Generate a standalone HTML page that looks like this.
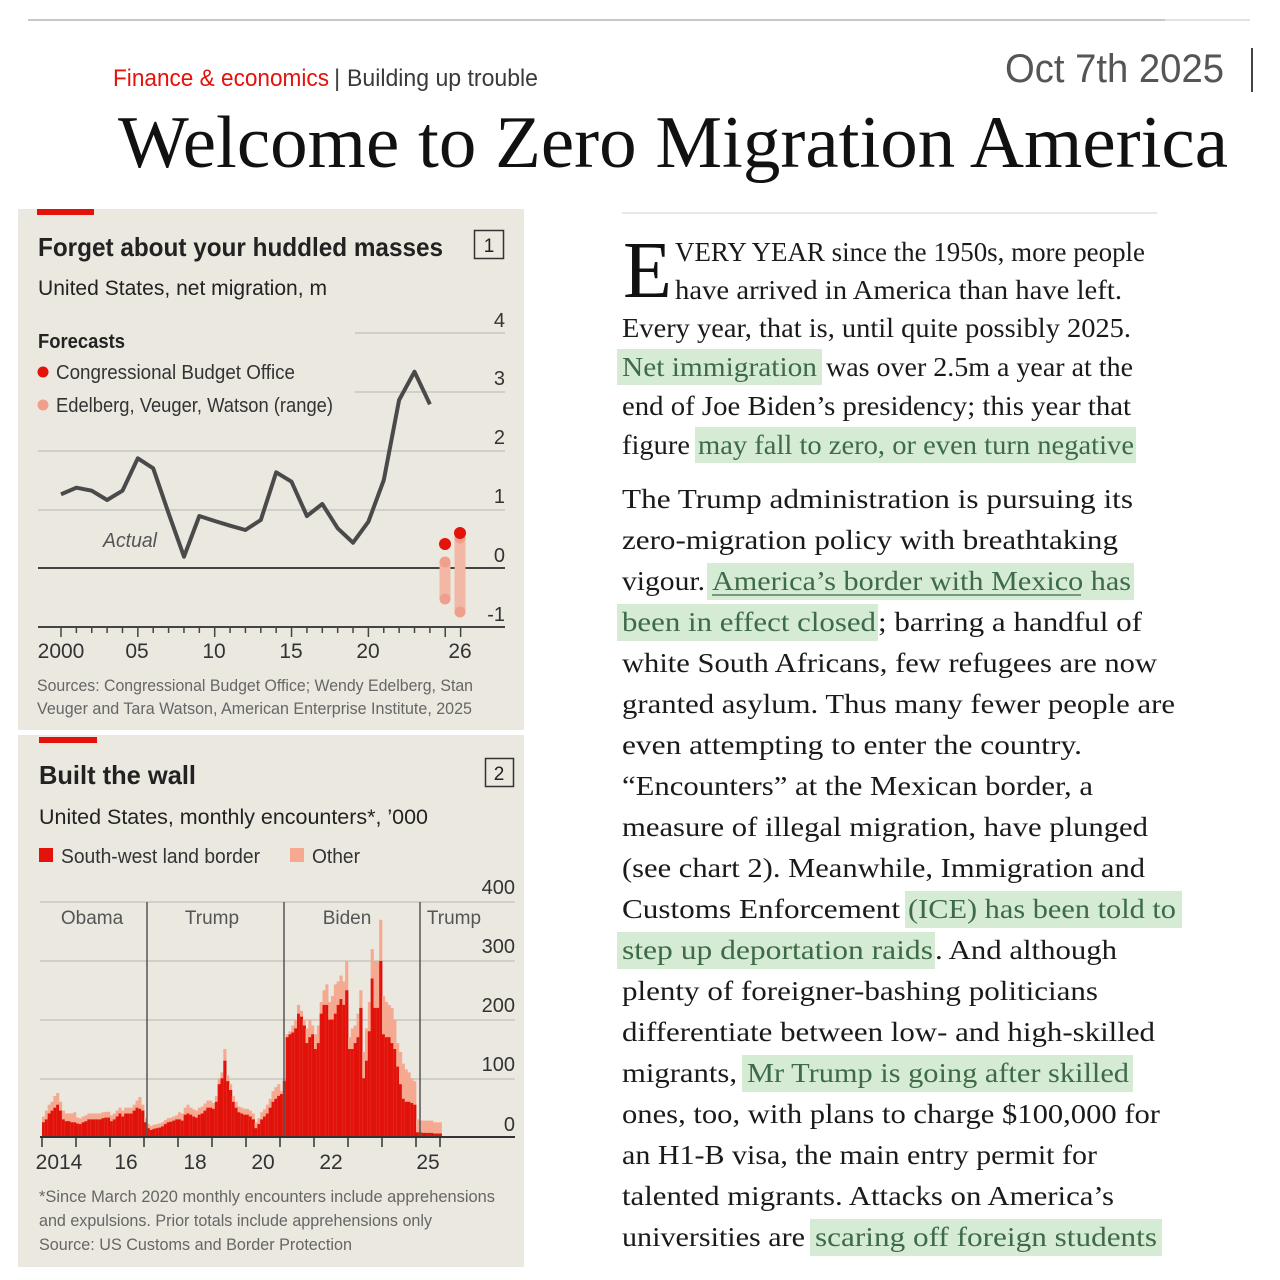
<!DOCTYPE html>
<html><head><meta charset="utf-8"><style>
html,body{margin:0;padding:0;background:#fff;}
svg{display:block;}
.s{font-family:"Liberation Sans Narrow","Liberation Sans",sans-serif;}
.r{font-family:"Liberation Serif",serif;}
</style></head><body>
<svg id="svg" width="1280" height="1280" viewBox="0 0 1280 1280" xmlns="http://www.w3.org/2000/svg">
<rect width="1280" height="1280" fill="#fff"/>
<line x1="28" y1="20" x2="1165" y2="20" stroke="#c8c8c8" stroke-width="2"/>
<line x1="1165" y1="20" x2="1250" y2="20" stroke="#e2e2e2" stroke-width="2"/>
<text class="s" x="113" y="86" font-size="24" fill="#e3120b" textLength="216" lengthAdjust="spacingAndGlyphs">Finance &amp; economics</text>
<text class="s" x="334" y="86" font-size="24" fill="#444">|</text>
<text class="s" x="347" y="86" font-size="24" fill="#3a3a3a" textLength="191" lengthAdjust="spacingAndGlyphs">Building up trouble</text>
<text class="s" x="1005" y="82" font-size="40" fill="#555" textLength="219" lengthAdjust="spacingAndGlyphs">Oct 7th 2025</text>
<rect x="1251" y="48" width="2" height="44" fill="#444"/>
<text class="r" x="118" y="167" font-size="74" fill="#111" textLength="1110" lengthAdjust="spacingAndGlyphs">Welcome to Zero Migration America</text>

<!-- chart 1 -->
<rect x="18" y="209" width="506" height="521" fill="#ebe8e0"/>
<rect x="37" y="209" width="57" height="6" fill="#e3120b"/>
<text class="s" x="38" y="256" font-size="26" font-weight="bold" fill="#222" textLength="405" lengthAdjust="spacingAndGlyphs">Forget about your huddled masses</text>
<rect x="474.5" y="230.5" width="29" height="28" fill="none" stroke="#333" stroke-width="1.5"/>
<text class="s" x="489" y="252" font-size="19" fill="#222" text-anchor="middle">1</text>
<text class="s" x="38" y="295" font-size="21" fill="#222" textLength="289" lengthAdjust="spacingAndGlyphs">United States, net migration, m</text>
<text class="s" x="38" y="348" font-size="20" font-weight="bold" fill="#222" textLength="87" lengthAdjust="spacingAndGlyphs">Forecasts</text>
<circle cx="43" cy="372" r="5.5" fill="#e3120b"/>
<text class="s" x="56" y="379" font-size="20" fill="#333" textLength="239" lengthAdjust="spacingAndGlyphs">Congressional Budget Office</text>
<circle cx="43" cy="405" r="5.5" fill="#f0a08a"/>
<text class="s" x="56" y="412" font-size="20" fill="#333" textLength="277" lengthAdjust="spacingAndGlyphs">Edelberg, Veuger, Watson (range)</text>
<g stroke="#c9c6bf" stroke-width="1.5">
<line x1="355" y1="333" x2="505" y2="333"/>
<line x1="355" y1="392" x2="505" y2="392"/>
<line x1="38" y1="451" x2="505" y2="451"/>
<line x1="38" y1="510" x2="505" y2="510"/>
</g>
<line x1="38" y1="568" x2="505" y2="568" stroke="#444" stroke-width="2"/>
<line x1="38" y1="627" x2="505" y2="627" stroke="#444" stroke-width="2"/>
<g id="ticks1" stroke="#444" stroke-width="1.5"></g>
<g class="s" font-size="20" fill="#333" text-anchor="end">
<text x="505" y="327">4</text><text x="505" y="385">3</text><text x="505" y="444">2</text><text x="505" y="503">1</text><text x="505" y="562">0</text><text x="505" y="621">-1</text>
</g>
<g class="s" font-size="21" fill="#333" text-anchor="middle">
<text x="61" y="658">2000</text><text x="137" y="658">05</text><text x="214" y="658">10</text><text x="291" y="658">15</text><text x="368" y="658">20</text><text x="460" y="658">26</text>
</g>
<text class="s" x="103" y="547" font-size="20" font-style="italic" fill="#555" textLength="54" lengthAdjust="spacingAndGlyphs">Actual</text>
<polyline id="line1" fill="none" stroke="#4a4a4a" stroke-width="4" stroke-linejoin="round" points=""/>
<line x1="445" y1="562" x2="445" y2="599" stroke="#f2b7a5" stroke-width="11"/>
<line x1="460" y1="538" x2="460" y2="612" stroke="#f2b7a5" stroke-width="11"/>
<circle cx="445" cy="562" r="5.5" fill="#eea08c"/><circle cx="445" cy="599" r="5.5" fill="#eea08c"/>
<circle cx="460" cy="538" r="5.5" fill="#eea08c"/><circle cx="460" cy="612" r="5.5" fill="#eea08c"/>
<circle cx="445" cy="544" r="6" fill="#e3120b"/><circle cx="460" cy="533" r="6" fill="#e3120b"/>
<text class="s" x="37" y="691" font-size="16.5" fill="#666" textLength="436" lengthAdjust="spacingAndGlyphs">Sources: Congressional Budget Office; Wendy Edelberg, Stan</text>
<text class="s" x="37" y="714" font-size="16.5" fill="#666" textLength="435" lengthAdjust="spacingAndGlyphs">Veuger and Tara Watson, American Enterprise Institute, 2025</text>

<!-- chart 2 -->
<rect x="18" y="735" width="506" height="532" fill="#ebe8e0"/>
<rect x="39" y="737" width="58" height="6" fill="#e3120b"/>
<text class="s" x="39" y="784" font-size="26" font-weight="bold" fill="#222" textLength="157" lengthAdjust="spacingAndGlyphs">Built the wall</text>
<rect x="485.5" y="758.5" width="28" height="28" fill="none" stroke="#333" stroke-width="1.5"/>
<text class="s" x="499" y="780" font-size="19" fill="#222" text-anchor="middle">2</text>
<text class="s" x="39" y="824" font-size="21" fill="#222" textLength="389" lengthAdjust="spacingAndGlyphs">United States, monthly encounters*, ’000</text>
<rect x="39" y="848" width="14" height="14" fill="#e3120b"/>
<text class="s" x="61" y="863" font-size="20" fill="#333" textLength="199" lengthAdjust="spacingAndGlyphs">South-west land border</text>
<rect x="290" y="848" width="14" height="14" fill="#f4a990"/>
<text class="s" x="312" y="863" font-size="20" fill="#333" textLength="48" lengthAdjust="spacingAndGlyphs">Other</text>
<g stroke="#c9c6bf" stroke-width="1.5">
<line x1="40" y1="902" x2="515" y2="902"/><line x1="40" y1="961" x2="515" y2="961"/><line x1="40" y1="1020" x2="515" y2="1020"/><line x1="40" y1="1079" x2="515" y2="1079"/>
</g>
<g class="s" font-size="20" fill="#333" text-anchor="end">
<text x="515" y="894">400</text><text x="515" y="953">300</text><text x="515" y="1012">200</text><text x="515" y="1071">100</text><text x="515" y="1131">0</text>
</g>
<g id="bars"></g>
<g stroke="#555" stroke-width="1.5">
<line x1="147" y1="902" x2="147" y2="1137"/><line x1="284" y1="902" x2="284" y2="1137"/><line x1="420" y1="902" x2="420" y2="1137"/>
</g>
<g class="s" font-size="19" fill="#555" text-anchor="middle">
<text x="92" y="924">Obama</text><text x="212" y="924">Trump</text><text x="347" y="924">Biden</text><text x="454" y="924">Trump</text>
</g>
<line x1="40" y1="1137" x2="515" y2="1137" stroke="#333" stroke-width="2"/>
<g id="ticks2" stroke="#333" stroke-width="1.5"></g>
<g class="s" font-size="21" fill="#333" text-anchor="middle">
<text x="59" y="1169">2014</text><text x="126" y="1169">16</text><text x="195" y="1169">18</text><text x="263" y="1169">20</text><text x="331" y="1169">22</text><text x="428" y="1169">25</text>
</g>
<text class="s" x="39" y="1202" font-size="16.5" fill="#666" textLength="456" lengthAdjust="spacingAndGlyphs">*Since March 2020 monthly encounters include apprehensions</text>
<text class="s" x="39" y="1226" font-size="16.5" fill="#666" textLength="393" lengthAdjust="spacingAndGlyphs">and expulsions. Prior totals include apprehensions only</text>
<text class="s" x="39" y="1250" font-size="16.5" fill="#666" textLength="313" lengthAdjust="spacingAndGlyphs">Source: US Customs and Border Protection</text>

<!-- article -->
<line x1="622" y1="213" x2="1157" y2="213" stroke="#e0e0e0" stroke-width="1.5"/>
<g fill="#d5ebd4">
<rect x="617" y="349" width="205" height="36"/>
<rect x="695" y="427" width="441" height="36"/>
<rect x="707" y="563" width="427" height="37"/>
<rect x="617" y="604" width="261" height="37"/>
<rect x="905" y="891" width="277" height="37"/>
<rect x="617" y="932" width="318" height="37"/>
<rect x="742" y="1055" width="391" height="37"/>
<rect x="810" y="1219" width="352" height="37"/>
</g>
<text class="r" x="623" y="297" font-size="80" fill="#111">E</text>
<g class="r" font-size="27" fill="#1a1a1a" id="art"></g>
<line x1="712" y1="595" x2="1081" y2="595" stroke="#3d6a48" stroke-width="1.2"/>
</svg>
<script>
const NS="http://www.w3.org/2000/svg";
function el(p,t,a,txt){const e=document.createElementNS(NS,t);for(const k in a)e.setAttribute(k,a[k]);if(txt!==undefined)e.textContent=txt;p.appendChild(e);return e;}
// chart1 line
const zy=[583,563,572,600,572,475,505,640,770,648,663,677,690,660,517,545,648,612,685,728,665,540,300,215,313];
document.getElementById('line1').setAttribute('points',zy.map((v,i)=>(61+i*15.37).toFixed(1)+','+(300+v/3).toFixed(1)).join(' '));
const t1=document.getElementById('ticks1');
for(let y=2000;y<=2026;y++){const x=61+(y-2000)*15.37;el(t1,'line',{x1:x,y1:627,x2:x,y2:(y%5==0||y==2026)?637:633});}
// chart2 bars
const red=[25,30,40,45,50,55,45,30,27,27,25,25, 23,22,25,27,30,30,30,30,30,32,33,33, 27,30,35,40,35,40,40,40,45,50,48,45,
25,15,12,14,15,16,18,22,25,26,28,30, 30,28,38,40,38,35,33,38,40,45,50,50, 48,60,90,100,130,95,80,60,50,42,40,38,
38,35,30,15,22,30,35,40,50,60,65,70, 73,95,170,175,178,185,210,205,190,160,170,175,
150,160,210,225,225,200,200,210,225,235,225,250, 150,150,160,170,220,100,130,180,270,220,220,300,
175,170,170,160,150,120,90,65,60,60,58,55, 8,8,7,7,7,7,6,6,6];
const tot=[35,45,55,60,70,75,60,45,40,40,40,42, 33,32,35,37,40,40,40,40,40,42,43,43, 37,40,45,50,45,50,50,50,55,62,68,55,
32,22,19,21,22,23,25,29,32,33,35,37, 42,40,50,55,50,47,45,50,52,57,62,62, 58,70,100,110,150,105,90,70,60,52,50,48,
48,45,40,25,32,42,47,55,65,78,85,90, 78,100,175,180,190,200,225,215,200,185,200,190,
175,190,230,250,260,230,240,260,265,275,265,300, 170,185,190,210,250,145,185,230,320,300,300,370,
240,230,225,220,200,160,145,125,115,110,100,95, 30,28,28,28,28,28,25,25,25];
const b=document.getElementById('bars');const k=0.587,w=34/12;
red.forEach((r,i)=>{const x=42+i*w;const t=tot[i];
el(b,'rect',{x:x.toFixed(2),y:(1137-t*k).toFixed(1),width:(w+0.3).toFixed(2),height:(t*k).toFixed(1),fill:'#f4a990'});
el(b,'rect',{x:x.toFixed(2),y:(1137-r*k).toFixed(1),width:(w+0.3).toFixed(2),height:(r*k).toFixed(1),fill:'#e3120b'});
el(b,'line',{x1:(x+w).toFixed(2),y1:(1137-r*k).toFixed(1),x2:(x+w).toFixed(2),y2:1137,stroke:'#c40e08','stroke-width':0.4});});
const t2=document.getElementById('ticks2');
for(let y=0;y<=11;y++){const x=42+y*34;el(t2,'line',{x1:x,y1:1137,x2:x,y2:1147});}
el(t2,'line',{x1:440,y1:1137,x2:440,y2:1147});
// article
const A=document.getElementById('art');
const L=[
[675,261,1145,"VERY YEAR since the 1950s, more people"],
[675,299,1122,"have arrived in America than have left."],
[622,337,1131,"Every year, that is, until quite possibly 2025."],
[622,376,817,"Net immigration",1],[826,376,1133,"was over 2.5m a year at the"],
[622,415,1131,"end of Joe Biden’s presidency; this year that"],
[622,454,690,"figure"],[698,454,1134,"may fall to zero, or even turn negative",1],
[622,508,1133,"The Trump administration is pursuing its"],
[622,549,1118,"zero-migration policy with breathtaking"],
[622,590,705,"vigour."],[712,590,1131,"America’s border with Mexico has",1],
[622,631,876,"been in effect closed",1],[878,631,1142,"; barring a handful of"],
[622,672,1157,"white South Africans, few refugees are now"],
[622,713,1175,"granted asylum. Thus many fewer people are"],
[622,754,1082,"even attempting to enter the country."],
[622,795,1093,"“Encounters” at the Mexican border, a"],
[622,836,1148,"measure of illegal migration, have plunged"],
[622,877,1145,"(see chart 2). Meanwhile, Immigration and"],
[622,918,900,"Customs Enforcement"],[908,918,1176,"(ICE) has been told to",1],
[622,959,933,"step up deportation raids",1],[935,959,1117,". And although"],
[622,1000,1098,"plenty of foreigner-bashing politicians"],
[622,1041,1155,"differentiate between low- and high-skilled"],
[622,1082,737,"migrants,"],[747,1082,1129,"Mr Trump is going after skilled",1],
[622,1123,1160,"ones, too, with plans to charge $100,000 for"],
[622,1164,1097,"an H1-B visa, the main entry permit for"],
[622,1205,1114,"talented migrants. Attacks on America’s"],
[622,1246,805,"universities are"],[815,1246,1157,"scaring off foreign students",1]];
L.forEach(l=>{const a={x:l[0],y:l[1],textLength:l[2]-l[0],lengthAdjust:'spacingAndGlyphs'};if(l[4])a.fill='#3d6a48';el(A,'text',a,l[3]);});
</script>
</body></html>
